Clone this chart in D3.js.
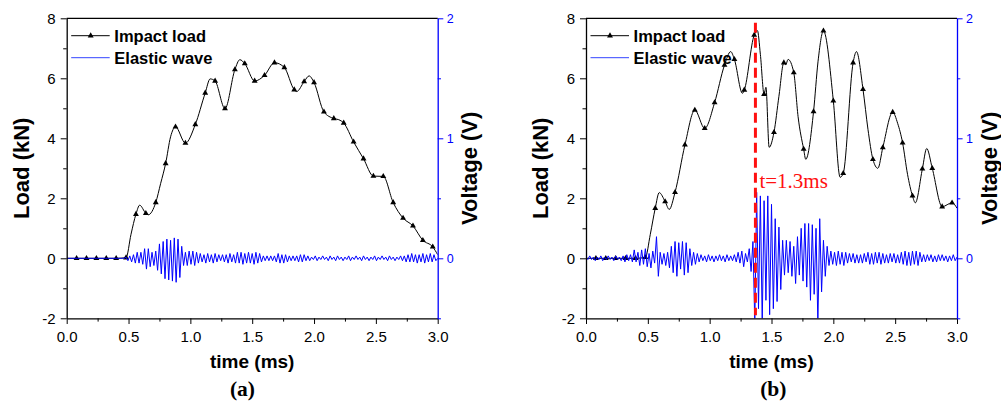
<!DOCTYPE html>
<html><head><meta charset="utf-8">
<script src="https://cdn.jsdelivr.net/npm/d3@7"></script>
<style>body{margin:0;background:#fff}svg{display:block;background:#fff}</style>
</head><body><svg id="c" width="1001" height="403"></svg>
<script>
// ---------- data ----------
const timeTicks=[0,0.5,1,1.5,2,2.5,3];
const timeMinor=[0.25,0.75,1.25,1.75,2.25,2.75];
const loadTicks=[-2,0,2,4,6,8];
const loadMinor=[-1,1,3,5,7];
const voltTicks=[0,1,2];
const voltMinor=[-0.5,0.5,1.5];
const seriesNames=["Impact load","Elastic wave"];
const markerStep=0.08;   // ms between triangle markers
const waveStep=0.015;    // ms between wave samples

// (a) impact load (kN)
const loadA_t=[0,0.08,0.16,0.24,0.32,0.40,0.48,0.52,0.56,0.59,0.64,0.66,0.72,0.76,0.80,0.84,0.88,0.96,1.04,1.12,1.16,1.20,1.28,1.36,1.40,1.44,1.52,1.60,1.68,1.76,1.84,1.86,1.92,1.96,2.00,2.08,2.16,2.20,2.24,2.32,2.40,2.48,2.56,2.64,2.72,2.80,2.88,2.96,3.0];
const loadA_v=[0,0,0,0,0,0,0.02,0.8,1.47,1.77,1.5,1.45,1.86,2.5,3.16,4.05,4.38,3.84,4.46,5.51,5.98,5.91,4.99,6.29,6.62,6.49,5.91,6.1,6.52,6.36,5.62,5.56,5.89,6.08,5.86,4.88,4.66,4.62,4.51,3.88,3.32,2.74,2.73,1.86,1.34,1.08,0.6,0.38,0.12];
// (a) elastic wave (0.01 V), samples every waveStep from 0 ms
const waveA=[0,0,0,0,0,0,0,0,0,0,
0,0,0,0,0,0,0,0,0,0,
0,0,0,0,0,0,0,0,0,0,
0,0,1,-2,2,-3,3,-4,5,-4,
5,-5,8,-9,8,-7,5,-6,6,-10,
12,-13,14,-17,16,-18,15,-19,17,-20,
16,-16,10,-6,5,-6,6,-5,6,-6,
5,-4,4,-3,3,-4,4,-3,3,-4,
4,-3,3,-2,3,-3,3,-4,4,-3,
3,-4,5,-4,5,-5,4,-4,5,-4,
4,-5,5,-4,4,-3,2,-2,2,-2,
2,-2,2,-3,4,-4,3,-4,3,-3,
2,-2,2,-2,2,-3,3,-3,3,-2,
2,-2,1,-1,2,-2,1,-1,2,-1,
1,-2,2,-1,1,-2,2,-1,1,-2,
1,-1,2,-2,1,-1,2,-1,1,-2,
2,-1,1,-2,1,-1,2,-2,1,-1,
2,-1,1,-2,2,-1,1,-2,1,-1,
2,-2,2,-3,3,-3,4,-3,3,-4,
3,-3,4,-4,3,-3,4,-3,3,-2,
0];

// (b) impact load (kN)
const loadB_t=[0,0.08,0.16,0.24,0.32,0.40,0.48,0.52,0.56,0.592,0.64,0.673,0.72,0.80,0.88,0.96,1.04,1.12,1.17,1.20,1.265,1.28,1.36,1.386,1.41,1.44,1.455,1.481,1.52,1.56,1.60,1.615,1.634,1.68,1.715,1.76,1.777,1.84,1.876,1.92,2.00,2.055,2.08,2.16,2.187,2.24,2.28,2.32,2.36,2.40,2.48,2.52,2.56,2.60,2.64,2.663,2.72,2.755,2.80,2.88,2.96,3.0];
const loadB_v=[0,0,0,0,0,0,0.03,0.8,1.67,2.19,1.89,1.63,2.2,3.78,4.94,4.33,5.19,6.44,6.89,6.63,5.5,5.61,7.44,7.59,6.8,5.47,5.7,3.7,4.2,5.4,6.52,6.45,6.63,6.19,4.72,3.64,3.3,4.89,6.55,7.58,5.25,2.7,2.83,6.52,6.89,5.63,4.3,3.3,3.0,3.69,4.87,4.5,3.85,2.8,2.08,1.85,2.98,3.66,3.0,1.72,1.85,1.67];
// (b) elastic wave (0.01 V)
const waveB=[1,-1,2,-1,1,-2,1,-1,2,-2,
1,-1,2,-1,1,-2,2,-1,1,-2,
2,-3,3,-2,3,-3,7,-3,5,-6,
7,-5,8,-7,4,-8,6,-4,18,-15,
5,-5,4,-6,5,-8,10,-12,14,-15,
13,-9,14,-14,13,-12,8,-6,5,-5,
4,-3,3,-2,2,-3,3,-2,2,-3,
2,-2,3,-2,2,-3,3,-2,2,-2,
3,-3,5,-4,6,-7,4,-3,8,-11,
14,-55,55,-42,52,-55,48,-35,52,-47,
45,-42,33,-36,26,-26,15,-14,15,-12,
14,-15,10,-21,18,-14,25,-19,29,-24,
29,-35,28,-30,25,-55,33,-28,15,-15,
10,-6,6,-5,5,-6,6,-5,5,-6,
5,-4,4,-3,4,-4,3,-4,3,-4,
4,-3,5,-5,4,-5,5,-4,5,-5,
4,-4,3,-4,4,-3,4,-4,3,-4,
5,-5,6,-6,5,-6,6,-5,6,-6,
5,-3,3,-3,3,-2,3,-3,2,-3,
3,-2,3,-2,2,-3,2,-2,3,-2,
1];

const markTime=1.37, markTop=7.85, markLabel="t=1.3ms";

// ---------- drawing ----------
const svg=d3.select("#c");
const TOP=18.3, BOT=318.3, W=371;
const SANS="'Liberation Sans', Arial, sans-serif";
const SERIF="'Liberation Serif', 'Times New Roman', serif";
const panels=[
 {id:"a",left:66.7,lt:loadA_t,lv:loadA_v,wave:waveA,tag:"(a)",tagX:242.5,red:false},
 {id:"b",left:586,lt:loadB_t,lv:loadB_v,wave:waveB,tag:"(b)",tagX:773.3,red:true}
];
const defs=svg.append("defs");
panels.forEach(p=>{
  const x=d3.scaleLinear().domain([0,3]).range([p.left,p.left+W]);
  const yL=d3.scaleLinear().domain([-2,8]).range([BOT,TOP]);
  const yV=d3.scaleLinear().domain([-0.5,2]).range([BOT,TOP]);
  defs.append("clipPath").attr("id","clip"+p.id).append("rect")
    .attr("x",p.left).attr("y",TOP).attr("width",W).attr("height",BOT-TOP);
  const g=svg.append("g");
  const data=g.append("g").attr("clip-path","url(#clip"+p.id+")");
  const pts=p.lt.map((t,i)=>[t,p.lv[i]]);
  data.append("path").attr("d",d3.line().x(d=>x(d[0])).y(d=>yL(d[1])).curve(d3.curveMonotoneX)(pts))
    .attr("fill","none").attr("stroke","#000").attr("stroke-width",1);
  const marks=pts.filter(d=>d[0]>0&&d[0]<3&&Math.abs(d[0]/markerStep-Math.round(d[0]/markerStep))<1e-6);
  const tri=d3.symbol(d3.symbolTriangle).size(15);
  data.selectAll("path.m").data(marks).enter().append("path").attr("class","m")
    .attr("d",tri).attr("transform",d=>`translate(${x(d[0])},${yL(d[1])})`).attr("fill","#000");
  const wpts=p.wave.map((v,i)=>[i*waveStep,v/100]);
  data.append("path").attr("d",d3.line().x(d=>x(d[0])).y(d=>yV(d[1]))(wpts))
    .attr("fill","none").attr("stroke","#0000ff").attr("stroke-width",1);

  // axes
  const fmt=d=>String(d);
  const ax=g.append("g").attr("transform",`translate(0,${BOT})`)
    .call(d3.axisBottom(x).tickValues(timeTicks).tickFormat(d3.format(".1f")).tickSize(5.7).tickPadding(7).tickSizeOuter(0));
  const axm=g.append("g").attr("transform",`translate(0,${BOT})`)
    .call(d3.axisBottom(x).tickValues(timeMinor).tickFormat("").tickSize(3.3));
  const ay=g.append("g").attr("transform",`translate(${p.left},0)`)
    .call(d3.axisLeft(yL).tickValues(loadTicks).tickFormat(fmt).tickSize(6).tickPadding(5).tickSizeOuter(0));
  const aym=g.append("g").attr("transform",`translate(${p.left},0)`)
    .call(d3.axisLeft(yL).tickValues(loadMinor).tickFormat("").tickSize(3.5));
  const av=g.append("g").attr("transform",`translate(${p.left+W},0)`)
    .call(d3.axisRight(yV).tickValues(voltTicks).tickFormat(fmt).tickSize(5.6).tickPadding(3.4).tickSizeOuter(0));
  const avm=g.append("g").attr("transform",`translate(${p.left+W},0)`)
    .call(d3.axisRight(yV).tickValues(voltMinor).tickFormat("").tickSize(3.3));
  [axm,aym,avm].forEach(a=>a.select(".domain").remove());
  [ax,ay,axm,aym].forEach(a=>{a.selectAll("line").attr("stroke","#000");a.select(".domain").attr("stroke","#000").attr("stroke-width",1.3);});
  [ax,ay].forEach(a=>a.selectAll("text").attr("font-family",SANS).attr("font-size",15).attr("fill","#000"));
  [av,avm].forEach(a=>{a.selectAll("line").attr("stroke","#0000ff");a.select(".domain").attr("stroke","#0000ff").attr("stroke-width",1.3);});
  av.selectAll("text").attr("font-family",SANS).attr("font-size",12.5).attr("fill","#0000ff");
  g.append("line").attr("x1",p.left).attr("x2",p.left+W).attr("y1",TOP).attr("y2",TOP).attr("stroke","#000").attr("stroke-width",1.3);

  // titles
  g.append("text").attr("x",x(1.5)).attr("y",368).attr("text-anchor","middle")
    .attr("font-family",SANS).attr("font-weight","bold").attr("font-size",19).text("time (ms)");
  g.append("text").attr("transform",`translate(${p.left-37.7},${(TOP+BOT)/2}) rotate(-90)`).attr("text-anchor","middle")
    .attr("font-family",SANS).attr("font-weight","bold").attr("font-size",22).text("Load (kN)");
  g.append("text").attr("transform",`translate(${p.left+W+39.7},${(TOP+BOT)/2}) rotate(-90)`).attr("text-anchor","middle")
    .attr("font-family",SANS).attr("font-weight","bold").attr("font-size",22).text("Voltage (V)");
  g.append("text").attr("x",p.tagX).attr("y",396).attr("text-anchor","middle")
    .attr("font-family",SERIF).attr("font-weight","bold").attr("font-size",21.5).text(p.tag);

  // legend
  const lg=g.append("g");
  lg.append("line").attr("x1",p.left+4.5).attr("x2",p.left+43).attr("y1",35.7).attr("y2",35.7).attr("stroke","#000").attr("stroke-width",1);
  lg.append("path").attr("d",tri).attr("transform",`translate(${p.left+24},35.7)`).attr("fill","#000");
  lg.append("text").attr("x",p.left+47.6).attr("y",41.7).attr("font-family",SANS).attr("font-weight","bold").attr("font-size",16.5).text(seriesNames[0]);
  lg.append("line").attr("x1",p.left+4.5).attr("x2",p.left+43).attr("y1",57.7).attr("y2",57.7).attr("stroke","#3344ff").attr("stroke-width",1);
  lg.append("text").attr("x",p.left+47.6).attr("y",63.5).attr("font-family",SANS).attr("font-weight","bold").attr("font-size",16.5).text(seriesNames[1]);

  if(p.red){
    g.append("line").attr("x1",x(markTime)).attr("x2",x(markTime)).attr("y1",yL(markTop)).attr("y2",BOT-3)
      .attr("stroke","#ff1010").attr("stroke-width",3).attr("stroke-dasharray","10,5");
    g.append("text").attr("x",x(markTime)+4).attr("y",yL(2.34)).attr("font-family",SERIF).attr("font-size",21)
      .attr("fill","#ff1010").text(markLabel);
  }
});
</script></body></html>
